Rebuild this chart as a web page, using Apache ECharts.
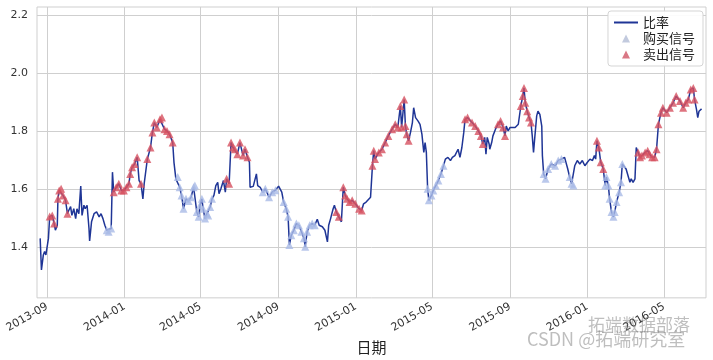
<!DOCTYPE html>
<html><head><meta charset="utf-8">
<script src="https://cdn.jsdelivr.net/npm/echarts@6/dist/echarts.min.js"></script>
<style>html,body{margin:0;padding:0;background:#fff}#c{width:713px;height:360px}</style>
</head><body><div id="c"></div>
<script>
const dates = [
'2013-08-21','2013-08-23','2013-08-26','2013-08-28','2013-08-30','2013-09-03','2013-09-05','2013-09-09','2013-09-12','2013-09-14',
'2013-09-17','2013-09-18','2013-09-20','2013-09-23','2013-09-26','2013-09-30','2013-10-03','2013-10-05','2013-10-08','2013-10-10',
'2013-10-13','2013-10-16','2013-10-18','2013-10-21','2013-10-24','2013-10-26','2013-10-29','2013-10-31','2013-11-03','2013-11-06',
'2013-11-07','2013-11-10','2013-11-14','2013-11-18','2013-11-22','2013-11-25','2013-11-28','2013-12-01','2013-12-04','2013-12-07',
'2013-12-11','2013-12-13','2013-12-15','2013-12-19','2013-12-23','2013-12-27','2013-12-31','2014-01-04','2014-01-08','2014-01-10',
'2014-01-13','2014-01-17','2014-01-21','2014-01-24','2014-01-27','2014-01-30','2014-02-01','2014-02-06','2014-02-11','2014-02-14',
'2014-02-17','2014-02-21','2014-02-26','2014-03-01','2014-03-05','2014-03-09','2014-03-13','2014-03-18','2014-03-20','2014-03-23',
'2014-03-26','2014-03-29','2014-04-01','2014-04-04','2014-04-08','2014-04-12','2014-04-16','2014-04-20','2014-04-22','2014-04-25',
'2014-04-28','2014-04-30','2014-05-03','2014-05-05','2014-05-08','2014-05-11','2014-05-13','2014-05-16','2014-05-19','2014-05-22',
'2014-05-25','2014-05-28','2014-05-30','2014-06-02','2014-06-06','2014-06-09','2014-06-11','2014-06-15','2014-06-18','2014-06-21',
'2014-06-24','2014-06-28','2014-07-02','2014-07-07','2014-07-10','2014-07-14','2014-07-17','2014-07-18','2014-07-21','2014-07-23',
'2014-07-28','2014-07-30','2014-08-03','2014-08-07','2014-08-11','2014-08-17','2014-08-22','2014-08-27','2014-09-01','2014-09-06',
'2014-09-09','2014-09-13','2014-09-16','2014-09-18','2014-09-21','2014-09-25','2014-09-29','2014-10-03','2014-10-07','2014-10-11',
'2014-10-13','2014-10-16','2014-10-20','2014-10-24','2014-10-28','2014-11-01','2014-11-04','2014-11-09','2014-11-13','2014-11-17',
'2014-11-19','2014-11-22','2014-11-26','2014-11-28','2014-12-01','2014-12-05','2014-12-09','2014-12-12','2014-12-15','2014-12-18',
'2014-12-22','2014-12-26','2014-12-31','2015-01-06','2015-01-10','2015-01-13','2015-01-17','2015-01-20','2015-01-24','2015-01-27',
'2015-01-29','2015-01-31','2015-02-06','2015-02-11','2015-02-16','2015-02-21','2015-02-27','2015-03-04','2015-03-08','2015-03-12',
'2015-03-14','2015-03-18','2015-03-20','2015-03-22','2015-03-25','2015-03-28','2015-03-31','2015-04-02','2015-04-05','2015-04-09',
'2015-04-12','2015-04-15','2015-04-18','2015-04-20','2015-04-22','2015-04-24','2015-04-26','2015-04-30','2015-05-03','2015-05-07',
'2015-05-11','2015-05-15','2015-05-19','2015-05-22','2015-05-26','2015-05-30','2015-06-02','2015-06-06','2015-06-11','2015-06-14',
'2015-06-17','2015-06-20','2015-06-22','2015-06-26','2015-07-03','2015-07-08','2015-07-13','2015-07-17','2015-07-20','2015-07-23',
'2015-07-25','2015-07-27','2015-07-30','2015-07-31','2015-08-03','2015-08-05','2015-08-09','2015-08-13','2015-08-17','2015-08-21',
'2015-08-24','2015-08-26','2015-08-29','2015-09-01','2015-09-04','2015-09-09','2015-09-14','2015-09-16','2015-09-18','2015-09-21',
'2015-09-23','2015-09-25','2015-09-28','2015-10-01','2015-10-04','2015-10-06','2015-10-08','2015-10-10','2015-10-13','2015-10-15',
'2015-10-18','2015-10-21','2015-10-22','2015-10-24','2015-10-27','2015-10-31','2015-11-05','2015-11-11','2015-11-16','2015-11-21',
'2015-11-26','2015-12-01','2015-12-04','2015-12-07','2015-12-10','2015-12-12','2015-12-16','2015-12-20','2015-12-24','2015-12-28',
'2016-01-01','2016-01-05','2016-01-09','2016-01-12','2016-01-14','2016-01-16','2016-01-19','2016-01-22','2016-01-26','2016-01-29',
'2016-01-31','2016-02-03','2016-02-05','2016-02-08','2016-02-11','2016-02-13','2016-02-16','2016-02-20','2016-02-23','2016-02-25',
'2016-02-28','2016-03-02','2016-03-05','2016-03-08','2016-03-10','2016-03-13','2016-03-16','2016-03-18','2016-03-21','2016-03-24',
'2016-03-27','2016-04-01','2016-04-05','2016-04-08','2016-04-12','2016-04-16','2016-04-19','2016-04-22','2016-04-26','2016-04-29',
'2016-05-05','2016-05-10','2016-05-15','2016-05-20','2016-05-26','2016-05-31','2016-06-04','2016-06-08','2016-06-12','2016-06-16',
'2016-06-18','2016-06-21','2016-06-23','2016-06-25','2016-06-29'
];
const ratio = [
1.431,1.322,1.374,1.386,1.374,1.43,1.506,1.51,1.482,1.459,
1.476,1.567,1.596,1.602,1.579,1.562,1.516,1.527,1.54,1.51,
1.533,1.499,1.533,1.516,1.611,1.51,1.545,1.533,1.545,1.465,
1.422,1.488,1.516,1.522,1.505,1.516,1.499,1.476,1.459,1.454,
1.465,1.659,1.59,1.607,1.619,1.596,1.596,1.607,1.619,1.653,
1.676,1.687,1.71,1.63,1.619,1.567,1.619,1.704,1.744,1.796,
1.83,1.813,1.841,1.847,1.807,1.801,1.79,1.761,1.693,1.636,
1.642,1.607,1.579,1.533,1.567,1.56,1.573,1.607,1.613,1.522,
1.505,1.545,1.567,1.533,1.499,1.516,1.51,1.539,1.567,1.579,
1.613,1.624,1.585,1.602,1.63,1.59,1.636,1.619,1.761,1.744,
1.738,1.721,1.761,1.716,1.738,1.71,1.693,1.607,1.613,1.61,
1.653,1.613,1.607,1.59,1.602,1.573,1.59,1.597,1.611,1.59,
1.556,1.533,1.505,1.408,1.442,1.459,1.482,1.476,1.454,1.431,
1.402,1.454,1.476,1.482,1.476,1.497,1.476,1.471,1.459,1.419,
1.476,1.499,1.533,1.545,1.522,1.505,1.488,1.607,1.579,1.567,
1.556,1.562,1.55,1.533,1.527,1.55,1.556,1.55,1.573,1.681,
1.733,1.704,1.727,1.738,1.761,1.784,1.807,1.824,1.813,1.887,
1.813,1.909,1.818,1.79,1.767,1.796,1.83,1.881,1.847,1.835,
1.824,1.79,1.727,1.761,1.727,1.602,1.562,1.579,1.596,1.613,
1.63,1.653,1.681,1.704,1.71,1.699,1.71,1.716,1.738,1.71,
1.744,1.796,1.841,1.847,1.83,1.818,1.801,1.784,1.756,1.779,
1.721,1.779,1.756,1.738,1.761,1.784,1.807,1.824,1.835,1.813,
1.784,1.818,1.801,1.813,1.807,1.813,1.824,1.818,1.887,1.921,
1.949,1.898,1.869,1.847,1.83,1.784,1.727,1.779,1.853,1.869,
1.858,1.818,1.716,1.653,1.636,1.67,1.687,1.681,1.699,1.704,
1.71,1.67,1.642,1.619,1.613,1.681,1.699,1.687,1.699,1.681,
1.693,1.704,1.699,1.716,1.704,1.767,1.744,1.693,1.67,1.613,
1.642,1.613,1.567,1.522,1.505,1.522,1.556,1.59,1.624,1.687,
1.681,1.67,1.664,1.624,1.636,1.624,1.636,1.744,1.727,1.71,
1.716,1.727,1.733,1.721,1.71,1.71,1.738,1.824,1.864,1.881,
1.864,1.881,1.898,1.921,1.904,1.881,1.898,1.909,1.944,1.949,
1.909,1.875,1.847,1.869,1.877
];
const sellRanges = [
['2013-09-05','2013-09-12'],['2013-09-18','2013-10-03'],['2013-12-15','2014-01-21'],['2014-01-27','2014-01-27'],
['2014-02-06','2014-03-18'],['2014-06-11','2014-07-14'],['2014-12-01','2014-12-05'],['2014-12-12','2015-01-10'],
['2015-01-27','2015-03-25'],['2015-06-22','2015-07-20'],['2015-08-13','2015-08-24'],['2015-09-18','2015-10-04'],
['2016-01-16','2016-01-26'],['2016-03-21','2016-06-18']
];
const buyRanges = [
['2013-12-04','2013-12-11'],['2014-03-26','2014-05-19'],['2014-08-07','2014-08-27'],['2014-09-09','2014-10-28'],
['2015-04-24','2015-05-19'],['2015-10-24','2015-11-21'],['2015-12-04','2015-12-10'],['2016-01-29','2016-02-25']
];
const xTickDates = ['2013-09-01','2014-01-01','2014-05-01','2014-09-01','2015-01-01','2015-05-01','2015-09-01','2016-01-01','2016-05-01'];
const yTicks = [1.4,1.6,1.8,2.0,2.2];
const xRange = ['2013-08-16','2016-07-06'];
const yRange = [1.226, 2.228];

function t(s){const p=s.split('-').map(Number);return Date.UTC(p[0],p[1]-1,p[2]);}
const lineData = dates.map((d,i)=>[t(d),ratio[i]]);
function pick(ranges){
  return lineData.filter(p=>ranges.some(r=>p[0]>=t(r[0])&&p[0]<=t(r[1])));
}
const sellData = pick(sellRanges);
const buyData = pick(buyRanges);
const xTicksT = xTickDates.map(t);
const legendTriangle = 'path://M0,0M24,8M8,8L12,0L16,8Z';

const chart = echarts.init(document.getElementById('c'));
chart.setOption({
  animation:false,
  backgroundColor:'#fff',
  grid:{left:37,right:7,top:7,bottom:60,show:true,borderColor:'#cfcfcf',borderWidth:1},
  xAxis:{
    type:'value',min:t(xRange[0]),max:t(xRange[1]),
    name:'日期',nameLocation:'middle',nameGap:38,
    nameTextStyle:{fontSize:15,color:'#222',fontFamily:'Noto Sans CJK SC'},
    axisLine:{show:false},
    axisTick:{show:false,customValues:xTicksT},
    axisLabel:{customValues:xTicksT,rotate:30,fontSize:11,color:'#333',margin:8,fontFamily:'DejaVu Sans',
      formatter:v=>{const d=new Date(v);return d.getUTCFullYear()+'-'+String(d.getUTCMonth()+1).padStart(2,'0');}},
    splitLine:{show:true,lineStyle:{color:'#cfcfcf',width:1}}
  },
  yAxis:{
    type:'value',min:yRange[0],max:yRange[1],
    axisLine:{show:false},
    axisTick:{show:false,customValues:yTicks},
    axisLabel:{customValues:yTicks,fontSize:11,color:'#333',margin:9,fontFamily:'DejaVu Sans',formatter:v=>v.toFixed(1)},
    splitLine:{show:true,lineStyle:{color:'#cfcfcf',width:1}}
  },
  legend:{
    orient:'vertical',right:10,top:11,
    backgroundColor:'rgba(255,255,255,0.9)',borderColor:'#d5d5d5',borderWidth:1,borderRadius:3,
    padding:[5,8,5,5],itemGap:3,itemWidth:24,itemHeight:8,
    textStyle:{fontSize:13,color:'#222',fontFamily:'Noto Sans CJK SC',lineHeight:13},
    data:[
      {name:'比率',itemStyle:{opacity:0}},
      {name:'购买信号',icon:legendTriangle,itemStyle:{color:'#b3bdd6'}},
      {name:'卖出信号',icon:legendTriangle,itemStyle:{color:'#cf5566'}}
    ]
  },
  series:[
    {name:'比率',type:'line',data:lineData,symbol:'none',lineStyle:{color:'#1f3596',width:1.5},itemStyle:{color:'#1f3596'},z:2},
    {name:'购买信号',type:'scatter',data:buyData,symbol:'triangle',symbolSize:8,itemStyle:{color:'#a9bae6'},z:3},
    {name:'卖出信号',type:'scatter',data:sellData,symbol:'triangle',symbolSize:8,itemStyle:{color:'#d6505f'},z:3}
  ],
  graphic:[
    {type:'text',left:588,top:316,z:100,style:{text:'拓端数据部落',fontSize:17,fill:'rgba(110,110,110,0.45)',fontFamily:'Noto Sans CJK SC'}},
    {type:'text',left:527,top:330,z:100,style:{text:'CSDN @拓端研究室',fontSize:18,fill:'rgba(110,110,110,0.45)',fontFamily:'Noto Sans CJK SC'}}
  ]
});
</script></body></html>
